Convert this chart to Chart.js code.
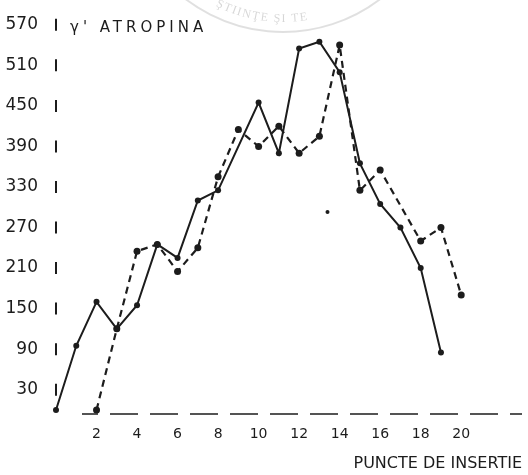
<!DOCTYPE html>
<html lang="ro">
<head>
    <meta charset="UTF-8">
    <title>Atropina</title>
    <script src="https://cdn.jsdelivr.net/npm/chart.js"></script>
    <style>
        body { margin: 0; background: #fff; }
        #wrap { width: 528px; height: 475px; }
    </style>
</head>
<body>

<div id="wrap"><canvas id="chart" width="528" height="475"></canvas></div>

<script>
    // values
    const xSolid = [0, 1, 2, 3, 4, 5, 6, 7, 8, 10, 11, 12, 13, 14, 15, 16, 17, 18, 19];
    const ySolid = [0, 95, 160, 120, 155, 245, 225, 310, 325, 455, 380, 535, 545, 500, 365, 305, 270, 210, 85];

    const xDashed = [2, 3, 4, 5, 6, 7, 8, 9, 10, 11, 12, 13, 14, 15, 16, 18, 19, 20];
    const yDashed = [0, 120, 235, 245, 205, 240, 345, 415, 390, 420, 380, 405, 540, 325, 355, 250, 270, 170];

    const xStray = [13.4];
    const yStray = [293];

    const xTickValues = [2, 4, 6, 8, 10, 12, 14, 16, 18, 20];
    const yTickValues = [30, 90, 150, 210, 270, 330, 390, 450, 510, 570];

    const unitLabel = "γ' ATROPINA";
    const xTitle = 'PUNCTE DE INSERTIE';
    const sealText = 'ŞTIINŢE ŞI TE';

    const ink = '#1c1c1c';

    function toPoints(xs, ys) {
        return xs.map((x, i) => ({ x: x, y: ys[i] }));
    }

    // faint library stamp at the top of the scan
    const sealPlugin = {
        id: 'seal',
        beforeDraw(chart) {
            const ctx = chart.ctx;
            const cx = 283, cy = -128, r = 160;
            ctx.save();
            ctx.strokeStyle = 'rgba(0,0,0,0.12)';
            ctx.lineWidth = 2;
            ctx.beginPath();
            ctx.arc(cx, cy, r, 0.15 * Math.PI, 0.85 * Math.PI);
            ctx.stroke();
            ctx.fillStyle = 'rgba(0,0,0,0.16)';
            ctx.font = '12px "Liberation Serif"';
            ctx.textAlign = 'center';
            let a = 117 * Math.PI / 180;
            const rt = 150;
            for (const ch of sealText) {
                const w = ctx.measureText(ch).width + 1.5;
                const mid = a - (w / 2) / rt;
                ctx.save();
                ctx.translate(cx + rt * Math.cos(mid), cy + rt * Math.sin(mid));
                ctx.rotate(mid - Math.PI / 2);
                ctx.fillText(ch, 0, 0);
                ctx.restore();
                a -= w / rt;
            }
            ctx.restore();
        }
    };

    // broken, hand-ruled axes of the original
    const axesPlugin = {
        id: 'brokenAxes',
        beforeDatasetsDraw(chart) {
            const ctx = chart.ctx;
            const a = chart.chartArea;
            const step = chart.scales.y.getPixelForValue(30) - chart.scales.y.getPixelForValue(90);
            const top = chart.scales.y.getPixelForValue(yTickValues[yTickValues.length - 1]);
            ctx.save();
            ctx.strokeStyle = ink;
            ctx.lineWidth = 2;
            ctx.setLineDash([12, step - 12]);
            ctx.lineDashOffset = step - (top - 6 - a.top);
            ctx.beginPath();
            ctx.moveTo(a.left, a.top);
            ctx.lineTo(a.left, a.bottom);
            ctx.stroke();
            ctx.lineWidth = 1.6;
            ctx.setLineDash([28, 12]);
            ctx.lineDashOffset = 12;
            ctx.beginPath();
            ctx.moveTo(a.left + 26, a.bottom);
            ctx.lineTo(a.right, a.bottom);
            ctx.stroke();
            ctx.restore();
        }
    };

    const unitPlugin = {
        id: 'unitLabel',
        afterDraw(chart) {
            const ctx = chart.ctx;
            const y = chart.scales.y.getPixelForValue(yTickValues[yTickValues.length - 1]);
            ctx.save();
            ctx.font = '15px "DejaVu Sans"';
            ctx.letterSpacing = '4px';
            ctx.fillStyle = ink;
            ctx.textBaseline = 'middle';
            ctx.fillText(unitLabel, chart.chartArea.left + 14, y + 3);
            ctx.restore();
        }
    };

    new Chart(document.getElementById('chart').getContext('2d'), {
        type: 'line',
        data: {
            datasets: [{
                data: toPoints(xSolid, ySolid),
                borderColor: ink,
                backgroundColor: ink,
                borderWidth: 2,
                pointRadius: 3,
                pointBorderWidth: 0,
                tension: 0,
                clip: false
            }, {
                data: toPoints(xDashed, yDashed),
                borderColor: ink,
                backgroundColor: ink,
                borderWidth: 2.2,
                borderDash: [7, 5],
                pointRadius: 3.5,
                pointBorderWidth: 0,
                tension: 0,
                clip: false
            }, {
                data: toPoints(xStray, yStray),
                showLine: false,
                backgroundColor: ink,
                borderColor: ink,
                pointRadius: 2,
                pointBorderWidth: 0
            }]
        },
        options: {
            responsive: false,
            animation: false,
            layout: { padding: { top: 12, right: 6, left: 0, bottom: 0 } },
            plugins: {
                legend: { display: false },
                tooltip: { enabled: false }
            },
            scales: {
                x: {
                    type: 'linear',
                    min: 0,
                    max: 23,
                    afterBuildTicks: s => { s.ticks = xTickValues.map(v => ({ value: v })); },
                    afterFit: s => { s.height = 61; },
                    grid: { display: false, drawTicks: false },
                    border: { display: false },
                    ticks: {
                        color: ink,
                        font: { family: 'DejaVu Sans', size: 14 },
                        padding: 12,
                        maxRotation: 0,
                        autoSkip: false
                    },
                    title: {
                        display: true,
                        text: xTitle,
                        align: 'end',
                        color: ink,
                        font: { family: 'DejaVu Sans', size: 16 },
                        padding: { top: 0, bottom: 2 }
                    }
                },
                y: {
                    type: 'linear',
                    min: -6,
                    max: 589,
                    afterBuildTicks: s => { s.ticks = yTickValues.map(v => ({ value: v })); },
                    afterFit: s => {
                        s.width = 56;
                        s.paddingTop = 0;
                        s.paddingBottom = 0;
                    },
                    grid: { display: false, drawTicks: false },
                    border: { display: false },
                    ticks: {
                        color: ink,
                        font: { family: 'DejaVu Sans', size: 17 },
                        padding: 18,
                        autoSkip: false
                    }
                }
            }
        },
        plugins: [sealPlugin, axesPlugin, unitPlugin]
    });
</script>
</body>
</html>
